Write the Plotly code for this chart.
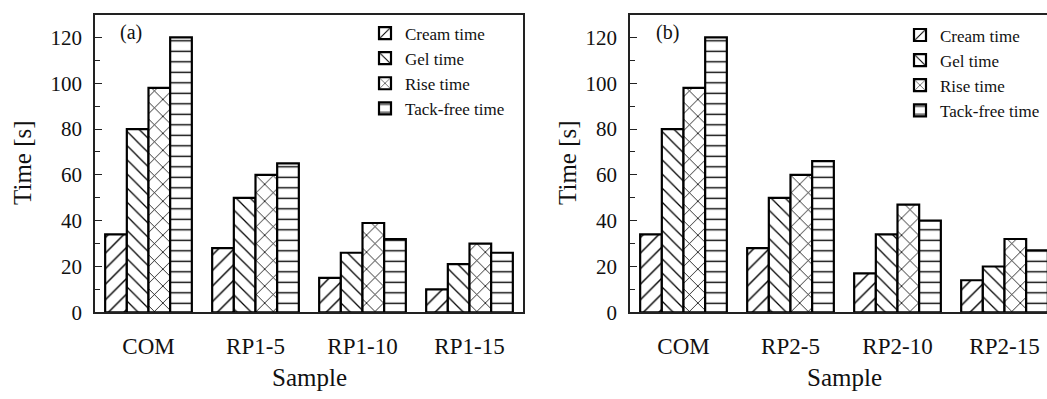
import plotly.graph_objects as go

# Foaming times for the two sample series
samples_a = ["COM", "RP1-5", "RP1-10", "RP1-15"]
samples_b = ["COM", "RP2-5", "RP2-10", "RP2-15"]

cream_a = [34, 28, 15, 10]
gel_a = [80, 50, 26, 21]
rise_a = [98, 60, 39, 30]
tack_a = [120, 65, 32, 26]

cream_b = [34, 28, 17, 14]
gel_b = [80, 50, 34, 20]
rise_b = [98, 60, 47, 32]
tack_b = [120, 66, 40, 27]

series_names = ["Cream time", "Gel time", "Rise time", "Tack-free time"]
hatches = ["/", "\\", "x", "-"]
hatch_sizes = [11, 10, 12, 10.5]

FONT = "Liberation Serif"
W, H = 1047, 399

fig = go.Figure()

panels = [
    (samples_a, [cream_a, gel_a, rise_a, tack_a], "x", "y", "legend"),
    (samples_b, [cream_b, gel_b, rise_b, tack_b], "x2", "y2", "legend2"),
]
for cats, values, xa, ya, lg in panels:
    for name, vals, shape, sz in zip(series_names, values, hatches, hatch_sizes):
        fig.add_trace(go.Bar(
            x=cats, y=vals, name=name, xaxis=xa, yaxis=ya, legend=lg,
            marker=dict(
                color="white",
                line=dict(color="black", width=2.2),
                pattern=dict(shape=shape, size=sz, solidity=0.13,
                             fgcolor="black", bgcolor="white", fillmode="replace"),
            ),
        ))

# pixel geometry of the two panels
top, bottom = 15, 322
left_a, right_a = 95, 523
left_b = 630
per_cat = (right_a - left_a) / 4
ydom = [1 - bottom / H, 1 - top / H]

yaxis_common = dict(
    range=[0, 130], tickvals=[0, 20, 40, 60, 80, 100, 120],
    ticks="inside", ticklen=7, tickwidth=1.3, tickcolor="#222",
    minor=dict(dtick=10, tick0=0, ticks="inside", ticklen=5, tickwidth=1.3, tickcolor="#222"),
    showline=True, linecolor="#222", linewidth=1.5,
    showgrid=False, zeroline=False,
    tickfont=dict(family=FONT, size=21, color="#111"),
    ticklabelstandoff=7,
)
xaxis_common = dict(
    type="category", ticks="", showline=True, linecolor="#222", linewidth=1.5,
    showgrid=False, zeroline=False,
    tickfont=dict(family=FONT, size=23, color="#111"),
    ticklabelstandoff=12,
)

legend_font = dict(family=FONT, size=17, color="#111")

fig.update_layout(
    width=W, height=H,
    margin=dict(l=0, r=0, t=0, b=0),
    paper_bgcolor="white", plot_bgcolor="white",
    barmode="group", bargap=0.19, bargroupgap=0,
    xaxis=dict(domain=[left_a / W, right_a / W], range=[-0.5, 3.5],
               mirror=True, anchor="y", **xaxis_common),
    yaxis=dict(domain=ydom, anchor="x", mirror=True, **yaxis_common),
    xaxis2=dict(domain=[left_b / W, 1.0],
                range=[-0.5, -0.5 + (W - left_b) / per_cat],
                mirror=True, anchor="y2", **xaxis_common),
    yaxis2=dict(domain=ydom, anchor="x2", mirror=False, **yaxis_common),
    legend=dict(x=365 / W, y=1 - 16 / H, xanchor="left", yanchor="top",
                bgcolor="rgba(0,0,0,0)", borderwidth=0, font=legend_font,
                tracegroupgap=0, itemclick=False),
    legend2=dict(x=900 / W, y=1 - 18 / H, xanchor="left", yanchor="top",
                 bgcolor="rgba(0,0,0,0)", borderwidth=0, font=legend_font,
                 tracegroupgap=0, itemclick=False),
    showlegend=True,
)

title_font = dict(family=FONT, size=25, color="#111")
label_font = dict(family=FONT, size=20, color="#111")
annos = [
    dict(text="Time [s]", x=23 / W, y=1 - 168 / H, textangle=-90, font=title_font),
    dict(text="Time [s]", x=568 / W, y=1 - 168 / H, textangle=-90, font=title_font),
    dict(text="Sample", x=309 / W, y=1 - 389 / H, font=title_font),
    dict(text="Sample", x=844 / W, y=1 - 389 / H, font=title_font),
    dict(text="(a)", x=131 / W, y=1 - 33 / H, font=label_font),
    dict(text="(b)", x=667 / W, y=1 - 33 / H, font=label_font),
]
for a in annos:
    fig.add_annotation(xref="paper", yref="paper", showarrow=False,
                       xanchor="center", yanchor="middle", **a)

fig.write_html("out.html")
